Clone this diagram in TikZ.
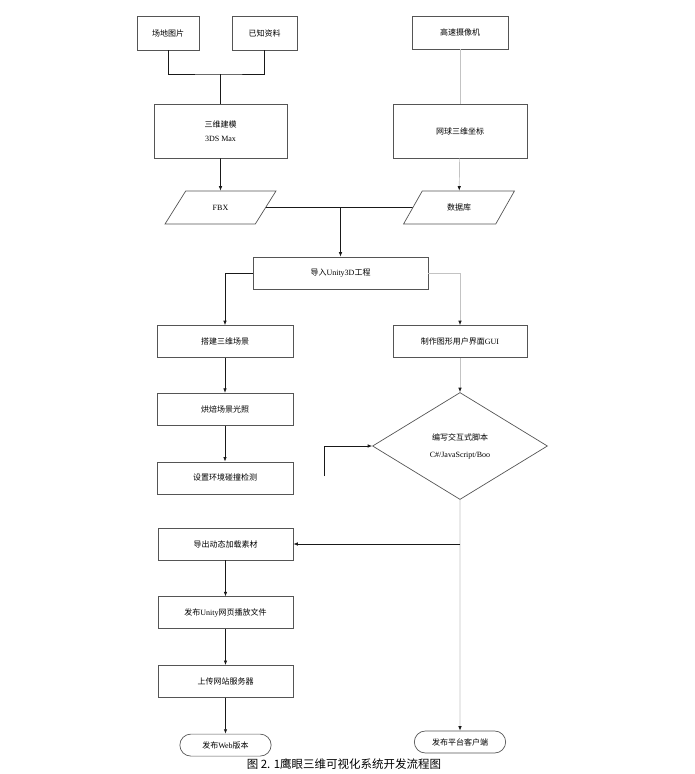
\documentclass[tikz,border=0pt]{standalone}
\usepackage{fontspec}
\setmainfont{Liberation Serif}
\newfontfamily\cjk{Noto Sans CJK SC}
\newcommand{\zh}[1]{{\cjk #1}}
\usetikzlibrary{shapes.geometric, shapes.misc, arrows.meta, positioning}
\definecolor{linecolor}{RGB}{25, 25, 25}
\definecolor{lightline}{RGB}{195, 195, 195}
\definecolor{edgecolor}{RGB}{85, 85, 85}

\begin{document}
\begin{tikzpicture}[
  x = 1pt,
  y = -1pt,
  font = \fontsize{8pt}{10pt}\selectfont,
  block/.style = {
    rectangle,
    draw = edgecolor,
    line width = 0.7pt,
    minimum width = 136pt,
    minimum height = 32pt,
    align = center,
    inner sep = 2pt
  },
  data/.style = {
    trapezium,
    trapezium left angle = 61,
    trapezium right angle = 119,
    trapezium stretches = true,
    draw = edgecolor,
    line width = 0.7pt,
    minimum width = 111pt,
    minimum height = 33pt
  },
  decision/.style = {
    diamond,
    draw = edgecolor,
    line width = 0.7pt,
    minimum width = 175pt,
    minimum height = 107pt,
    align = center,
    inner sep = 1pt,
    font = \fontsize{8pt}{17pt}\selectfont
  },
  terminal/.style = {
    rounded rectangle,
    draw = edgecolor,
    line width = 0.7pt,
    minimum width = 98pt,
    minimum height = 22pt
  },
  arrow/.style = {
    -{Latex[length=4.5pt, width=3.5pt]},
    draw = linecolor,
    line width = 0.7pt
  },
  link/.style = {
    draw = linecolor,
    line width = 0.7pt
  },
  grayarrow/.style = {
    -{Latex[length=4.5pt, width=3.5pt, color=linecolor]},
    draw = lightline,
    line width = 0.7pt
  },
  grayline/.style = {
    draw = lightline,
    line width = 0.7pt
  }
]
\useasboundingbox (0,0) rectangle (694,774);

% Nodes
\node[block, minimum width=62pt, minimum height=34pt] (site) at (168,33) {\zh{场地图片}};
\node[block, minimum width=65pt, minimum height=34pt] (known) at (264.5,33) {\zh{已知资料}};
\node[block, minimum width=133pt, minimum height=54pt, font=\fontsize{8pt}{14pt}\selectfont] (model) at (220.5,131) {\zh{三维建模}\\3DS Max};
\node[block, minimum width=96pt, minimum height=33pt] (camera) at (460,32.5) {\zh{高速摄像机}};
\node[block, minimum width=134pt, minimum height=54pt] (coord) at (460,131) {\zh{网球三维坐标}};
\node[data] (fbx) at (220.5,207.5) {FBX};
\node[data] (db) at (459,207.5) {\zh{数据库}};
\node[block, minimum width=175pt] (import) at (340.5,273) {\zh{导入}Unity3D\zh{工程}};
\node[block] (build) at (225,341.5) {\zh{搭建三维场景}};
\node[block, below=35pt of build] (bake) {\zh{烘焙场景光照}};
\node[block, below=36pt of bake] (collide) {\zh{设置环境碰撞检测}};
\node[block, minimum width=134pt] (gui) at (460,341.5) {\zh{制作图形用户界面}GUI};
\node[decision] (script) at (460,446) {\zh{编写交互式脚本}\\C\#/JavaScript/Boo};
\node[block, minimum width=135pt] (export) at (225.5,544) {\zh{导出动态加载素材}};
\node[block, minimum width=135pt, below=36pt of export] (publish) {\zh{发布}Unity\zh{网页播放文件}};
\node[block, minimum width=135pt, below=36pt of publish] (upload) {\zh{上传网站服务器}};
\node[terminal, below=36pt of upload] (web) {\zh{发布}Web\zh{版本}};
\node[terminal] (client) at (460,742) {\zh{发布平台客户端}};
\node[font=\fontsize{11.5pt}{13pt}\selectfont] (caption) at (344,764) {\zh{图 2. 1鹰眼三维可视化系统开发流程图}};

% Helper points
\coordinate (join) at (220.5,74);
\coordinate (merge) at (fbx.east -| import.north);
\coordinate (tap) at (script.south |- export.east);
\coordinate (loose) at (324,476);

% Arrows
\draw[link] (site.south) |- (join) -| (known.south);
\draw[link] (join) -- (model.north);
\draw[arrow] (model) -- (fbx);
\draw[grayline] (camera) -- (coord);
\draw[grayarrow] (coord) -- (db);
\draw[link] (fbx.east) -- (db.west);
\draw[arrow] (merge) -- (import);
\draw[arrow] (import.west) -| (build.north);
\draw[grayarrow] (import.east) -| (gui.north);
\draw[arrow] (build) -- (bake);
\draw[arrow] (bake) -- (collide);
\draw[grayarrow] (gui) -- (script);
\draw[arrow] (loose) |- (script.west);
\draw[grayarrow] (script) -- (client);
\draw[arrow] (tap) -- (export.east);
\draw[arrow] (export) -- (publish);
\draw[arrow] (publish) -- (upload);
\draw[arrow] (upload) -- (web);

\end{tikzpicture}
\end{document}
